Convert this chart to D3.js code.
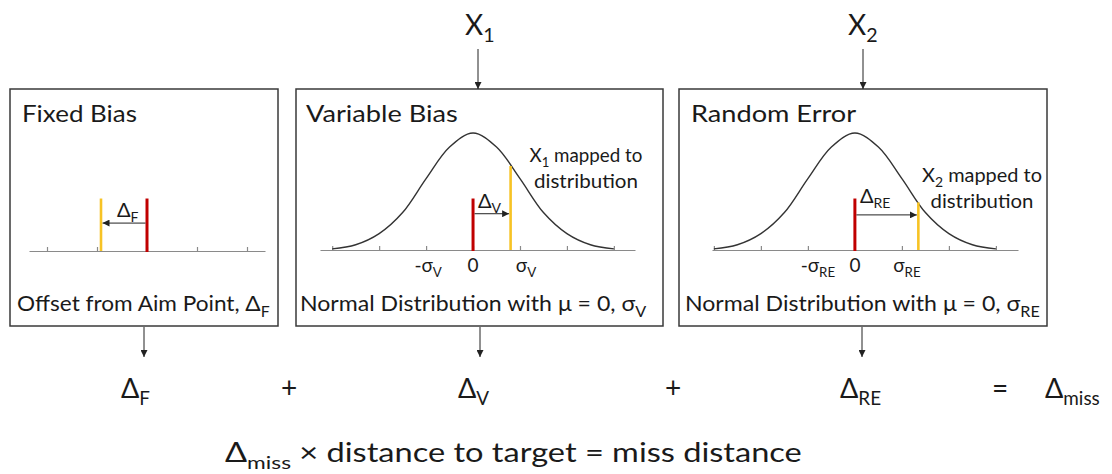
<!DOCTYPE html>
<html>
<head>
<meta charset="utf-8">
<script src="https://cdn.jsdelivr.net/npm/d3@7"></script>
<style>
  body { margin: 0; background: #fff; }
  text { font-family: Lato, "Open Sans", sans-serif; fill: #1a1a1a; }
</style>
</head>
<body>
<script>
// values
const panelTitles = ['Fixed Bias', 'Variable Bias', 'Random Error']
const deltaSubs = ['F', 'V', 'RE']
const inputSubs = ['1', '2']
const fixedTicks = [-2, -1, 0, 1, 2]
const sigmaTicks = [-3, -2, -1, 0, 1, 2, 3]
const labelSteps = [-1, 0, 1]
// bell curve heights (relative to peak) read at half-sigma steps
const curveZ = [-3, -2.5, -2, -1.5, -1, -0.5, 0, 0.5, 1, 1.5, 2, 2.5, 3]
const curveH = [0.01, 0.045, 0.14, 0.32, 0.61, 0.88, 1, 0.88, 0.61, 0.32, 0.14, 0.045, 0.01]
const aimPoint = 0
const shotValues = [-0.92, 0.8, 1.35]   // yellow line, in tick / sigma units
const barHeight = 0.44                   // red bar height, relative to curve peak
const arrowLevel = [0.23, 0.31, 0.3]

const W = 1112, H = 474
const svg = d3.select('body').append('svg').attr('width', W).attr('height', H)

svg.append('defs').append('marker')
  .attr('id', 'head')
  .attr('viewBox', '0 0 10 10')
  .attr('refX', 10).attr('refY', 5)
  .attr('markerWidth', 7).attr('markerHeight', 7)
  .attr('markerUnits', 'userSpaceOnUse')
  .attr('orient', 'auto')
  .append('path').attr('d', 'M0,0L10,5L0,10z').attr('fill', '#222')

// text with alternating normal / subscript pieces
function rich (g, parts, size) {
  const t = g.append('text').attr('font-size', size)
  let down = false
  parts.forEach(function (p, i) {
    if (!p) return
    const ts = t.append('tspan').text(p)
    if (i % 2 === 1) {
      ts.attr('font-size', size * 0.7).attr('dy', size * 0.26)
      down = true
    } else if (down) {
      ts.attr('dy', -size * 0.26)
      down = false
    }
  })
  return t
}

// the original uses a wide Calibri, so stretch to the measured width
function fit (t, x, w) {
  const bw = t.node().getBBox().width
  t.attr('transform', `translate(${x},0) scale(${w / bw},1) translate(${-x},0)`)
}

function arrow (x1, y1, x2, y2) {
  svg.append('line')
    .attr('x1', x1).attr('y1', y1).attr('x2', x2).attr('y2', y2)
    .attr('stroke', '#222').attr('stroke-width', 1)
    .attr('marker-end', 'url(#head)')
}

const boxes = [
  { x0: 10, x1: 278, axis: [29, 265], dom: [-2.36, 2.36] },
  { x0: 296, x1: 663, axis: [320, 635], dom: [-3.26, 3.45] },
  { x0: 679, x1: 1047, axis: [712, 1018], dom: [-3.04, 3.47] }
]
const boxTop = 89, boxBottom = 326, base = 250
const y = d3.scaleLinear().domain([0, 1]).range([base, 133])

const titleFit = [[22, 115], [306, 152], [691, 166]]
const captionFit = [[17, 253], [300, 347], [685, 355]]
const captions = [
  ['Offset from Aim Point, \u0394', 'F'],
  ['Normal Distribution with \u03bc = 0, \u03c3', 'V'],
  ['Normal Distribution with \u03bc = 0, \u03c3', 'RE']
]
const sigmaDx = [[0, 0, 0], [2, 0, 6], [10, 0, 5]]
const mappedAt = [null, { cx: 586, y: 162, w: [113, 104] }, { cx: 982, y: 182, w: [120, 103] }]

boxes.forEach(function (b, i) {
  const g = svg.append('g')
  g.append('rect')
    .attr('x', b.x0).attr('y', boxTop)
    .attr('width', b.x1 - b.x0).attr('height', boxBottom - boxTop)
    .attr('fill', 'none').attr('stroke', '#3a3a3a').attr('stroke-width', 1.5)

  const t = rich(g, [panelTitles[i]], 23).attr('x', titleFit[i][0]).attr('y', 122)
  fit(t, titleFit[i][0], titleFit[i][1])

  const c = rich(g, captions[i], 22).attr('x', captionFit[i][0]).attr('y', 311)
  fit(c, captionFit[i][0], captionFit[i][1])

  const x = d3.scaleLinear().domain(b.dom).range(b.axis)
  const yb = i === 0 ? base + 1 : base

  const ax = g.append('g')
    .attr('transform', `translate(0,${yb})`)
    .call(d3.axisTop(x).tickValues(i === 0 ? fixedTicks : sigmaTicks)
      .tickSize(4).tickSizeOuter(0).tickFormat(''))
  ax.selectAll('path, line').attr('stroke', '#8a8a8a').attr('stroke-width', 1.2)

  if (i > 0) {
    const pts = curveZ.map((z, k) => [z, curveH[k]])
    g.append('path')
      .datum(pts)
      .attr('d', d3.line().x(d => x(d[0])).y(d => y(d[1])).curve(d3.curveCatmullRom.alpha(0.5)))
      .attr('fill', 'none').attr('stroke', '#333').attr('stroke-width', 1.4)

    labelSteps.forEach(function (s, k) {
      const parts = s === 0 ? ['0'] : [(s < 0 ? '-' : '') + '\u03c3', deltaSubs[i]]
      rich(g, parts, 19)
        .attr('x', x(s) + sigmaDx[i][k]).attr('y', 272)
        .attr('text-anchor', 'middle')
    })

    const m = mappedAt[i]
    const l1 = rich(g, ['X', inputSubs[i - 1], ' mapped to'], 19)
      .attr('x', m.cx - m.w[0] / 2).attr('y', m.y)
    fit(l1, m.cx - m.w[0] / 2, m.w[0])
    const l2 = rich(g, ['distribution'], 19)
      .attr('x', m.cx - m.w[1] / 2).attr('y', m.y + 26)
    fit(l2, m.cx - m.w[1] / 2, m.w[1])
  }

  // yellow: the sampled value, up to the curve
  const v = shotValues[i]
  let topY
  if (i === 0) topY = y(barHeight)
  else {
    const k = d3.bisectLeft(curveZ, v)
    const f = (v - curveZ[k - 1]) / (curveZ[k] - curveZ[k - 1])
    topY = y(curveH[k - 1] + f * (curveH[k] - curveH[k - 1]))
  }
  g.append('line')
    .attr('x1', x(v)).attr('x2', x(v)).attr('y1', topY).attr('y2', yb)
    .attr('stroke', '#f7c325').attr('stroke-width', 2.6)

  // red: aim point
  g.append('line')
    .attr('x1', x(aimPoint)).attr('x2', x(aimPoint)).attr('y1', y(barHeight)).attr('y2', yb + 1)
    .attr('stroke', '#c00000').attr('stroke-width', 3)

  const ay = y(arrowLevel[i])
  arrow(x(aimPoint) + (v < 0 ? -1.5 : 1.5), ay, x(v) + (v < 0 ? 1.5 : -1.5), ay)

  if (i === 0) rich(g, ['\u0394', deltaSubs[i]], 20).attr('x', x(aimPoint) - 30).attr('y', 217)
  else rich(g, ['\u0394', deltaSubs[i]], 20).attr('x', x(aimPoint) + 5).attr('y', i === 1 ? 208 : 203)
})

// inputs on top
const inputX = [[465, 478], [848, 863]]
inputSubs.forEach(function (s, i) {
  rich(svg, ['X', s], 28).attr('x', inputX[i][0]).attr('y', 35)
  arrow(inputX[i][1], 49, inputX[i][1], boxTop)
})

// sum row
const sumArrows = [144, 480, 862]
sumArrows.forEach(a => arrow(a, boxBottom + 1, a, 357))
const sumX = [121, 458, 840]
deltaSubs.forEach(function (s, i) {
  rich(svg, ['\u0394', s], 27).attr('x', sumX[i]).attr('y', 398)
})
rich(svg, ['\u0394', 'miss'], 27).attr('x', 1045).attr('y', 398)
const ops = [['+', 289], ['+', 673], ['=', 1000]]
ops.forEach(o => rich(svg, [o[0]], 28).attr('x', o[1]).attr('y', 398).attr('text-anchor', 'middle'))

const formula = rich(svg, ['\u0394', 'miss', ' \u00d7  distance to target = miss distance'], 26)
  .attr('x', 225).attr('y', 462)
fit(formula, 225, 577)
</script>
</body>
</html>
